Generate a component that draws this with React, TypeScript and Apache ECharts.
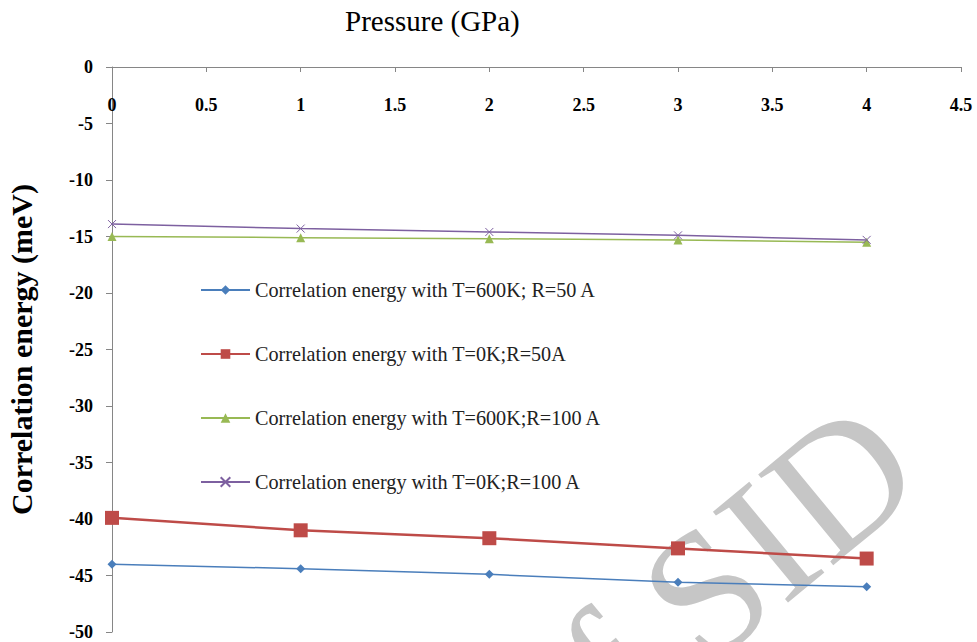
import React, { useEffect, useRef } from "react";
import * as echarts from "echarts";

const pressure = [0, 1, 2, 3, 4];
const seriesNames = [
  "Correlation energy with T=600K; R=50 A",
  "Correlation energy with T=0K;R=50A",
  "Correlation energy with T=600K;R=100 A",
  "Correlation energy with T=0K;R=100 A",
];
const t600r50 = [-44.0, -44.4, -44.9, -45.6, -46.0];
const t0r50 = [-39.9, -41.0, -41.7, -42.6, -43.5];
const t600r100 = [-15.0, -15.1, -15.2, -15.3, -15.5];
const t0r100 = [-13.9, -14.3, -14.6, -14.9, -15.3];

const SERIF = "'Liberation Serif', 'Times New Roman', serif";

function pairs(vals: number[]) {
  return pressure.map((p, i) => [p, vals[i]]);
}

export default function App() {
  const ref = useRef<HTMLDivElement>(null);
  useEffect(() => {
    if (!ref.current) return;
    const chart = echarts.init(ref.current, null, { renderer: "svg" });
    const rot = 0.69;
    const option: any = {
      animation: false,
      backgroundColor: "#ffffff",
      title: {
        text: "Pressure (GPa)",
        left: 340,
        top: 1,
        textStyle: { fontFamily: SERIF, fontWeight: "normal", fontSize: 29, color: "#000" },
      },
      graphic: [
        {
          type: "text",
          z: -10,
          x: 517,
          y: 748,
          rotation: rot,
          silent: true,
          style: {
            text: "of SID",
            font: "180px " + SERIF,
            fill: "#c6c6c6",
            align: "left",
            verticalAlign: "middle",
          },
        },
      ],
      legend: {
        orient: "vertical",
        left: 195,
        top: 275,
        itemWidth: 49,
        itemHeight: 12,
        itemGap: 44,
        data: seriesNames,
        textStyle: { fontFamily: SERIF, fontSize: 20.2, color: "#222", lineHeight: 20 },
      },
      grid: { left: 112, right: 16, top: 67, bottom: 10, outerBoundsMode: "none" },
      xAxis: {
        type: "value",
        position: "top",
        min: 0,
        max: 4.5,
        interval: 0.5,
        axisLine: { onZero: false, lineStyle: { color: "#868686", width: 1 } },
        axisTick: { show: true, inside: true, length: 5, lineStyle: { color: "#868686" } },
        axisLabel: {
          inside: true,
          margin: 29,
          fontFamily: SERIF,
          fontWeight: "bold",
          fontSize: 18,
          color: "#000",
        },
        splitLine: { show: false },
      },
      yAxis: {
        type: "value",
        min: -50,
        max: 0,
        interval: 5,
        name: "Correlation energy (meV)",
        nameLocation: "middle",
        nameGap: 76,
        nameRotate: 90,
        nameTextStyle: { fontFamily: SERIF, fontWeight: "bold", fontSize: 30, color: "#000" },
        axisLine: { onZero: false, lineStyle: { color: "#868686", width: 1 } },
        axisTick: { show: true, length: 6, lineStyle: { color: "#868686" } },
        axisLabel: { margin: 19, fontFamily: SERIF, fontWeight: "bold", fontSize: 18, color: "#000" },
        splitLine: { show: false },
      },
      series: [
        {
          name: seriesNames[0],
          type: "line",
          data: pairs(t600r50),
          symbol: "diamond",
          symbolSize: 9,
          lineStyle: { color: "#4a7ebb", width: 1.5 },
          itemStyle: { color: "#4a7ebb" },
        },
        {
          name: seriesNames[1],
          type: "line",
          data: pairs(t0r50),
          symbol: "rect",
          symbolSize: 14,
          lineStyle: { color: "#be4b48", width: 2.5 },
          itemStyle: { color: "#be4b48" },
        },
        {
          name: seriesNames[2],
          type: "line",
          data: pairs(t600r100),
          symbol: "triangle",
          symbolSize: 9,
          lineStyle: { color: "#98b954", width: 1.5 },
          itemStyle: { color: "#98b954" },
        },
        {
          name: seriesNames[3],
          type: "line",
          data: pairs(t0r100),
          symbol: "path://M0,0L10,10M10,0L0,10",
          symbolSize: 8,
          lineStyle: { color: "#7d60a0", width: 1.5 },
          itemStyle: { color: "rgba(0,0,0,0)", borderColor: "#7d60a0", borderWidth: 1 },
        },
      ],
    };
    chart.setOption(option);
    return () => chart.dispose();
  }, []);
  return <div ref={ref} style={{ width: 977, height: 642, position: "absolute", left: 0, top: 0 }} />;
}
